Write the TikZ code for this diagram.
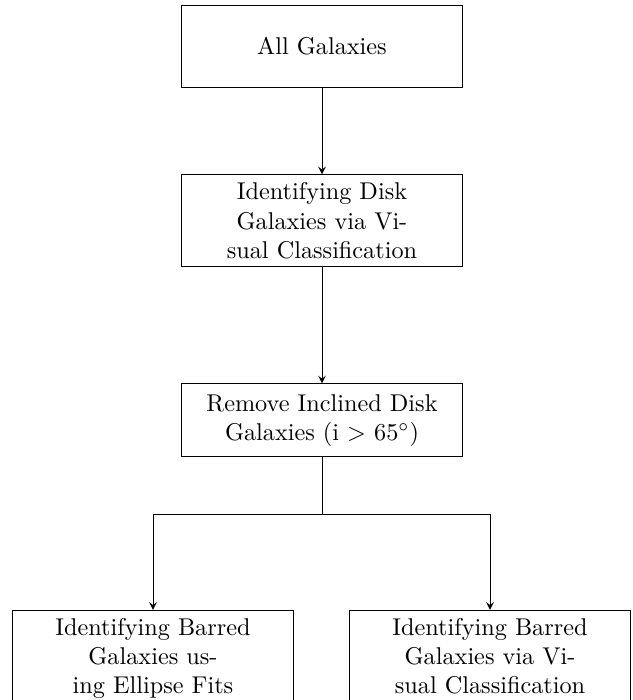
\documentclass[tikz,border=0pt]{standalone}
\usetikzlibrary{positioning}
\tikzset{
box/.style={
	draw, rectangle, align=center,
	minimum width=116pt, inner sep=0.333em},
arrow/.style={->, >=stealth}
}

\begin{document}
\begin{tikzpicture}[node distance=35.5pt]
	\useasboundingbox (-132.8pt,19.2pt) rectangle (128.2pt,-269.5pt);
	\node[box, minimum height=34pt] (all) at (0,0) {All Galaxies};
	\node[box, below=of all] (disk) {Identifying Disk\\ Galaxies via Vi-\\ sual Classification};
	\node[box, minimum height=30pt, below=47.9pt of disk] (incl) {Remove Inclined Disk\\ Galaxies (i $>$ 65$^{\circ}$)};
	\coordinate[below=23.6pt of incl] (split);
	\node[box, below=63pt of incl, xshift=-69.7pt] (ellfit) {Identifying Barred\\ Galaxies us-\\ ing Ellipse Fits};
	\node[box, below=63pt of incl, xshift=69.3pt] (visbar) {Identifying Barred\\ Galaxies via Vi-\\ sual Classification};
	\draw[arrow] (all) -- (disk);
	\draw[arrow] (disk) -- (incl);
	\draw (incl) -- (split);
	\draw[arrow] (split) -| (ellfit);
	\draw[arrow] (split) -| (visbar);
\end{tikzpicture}
\end{document}
